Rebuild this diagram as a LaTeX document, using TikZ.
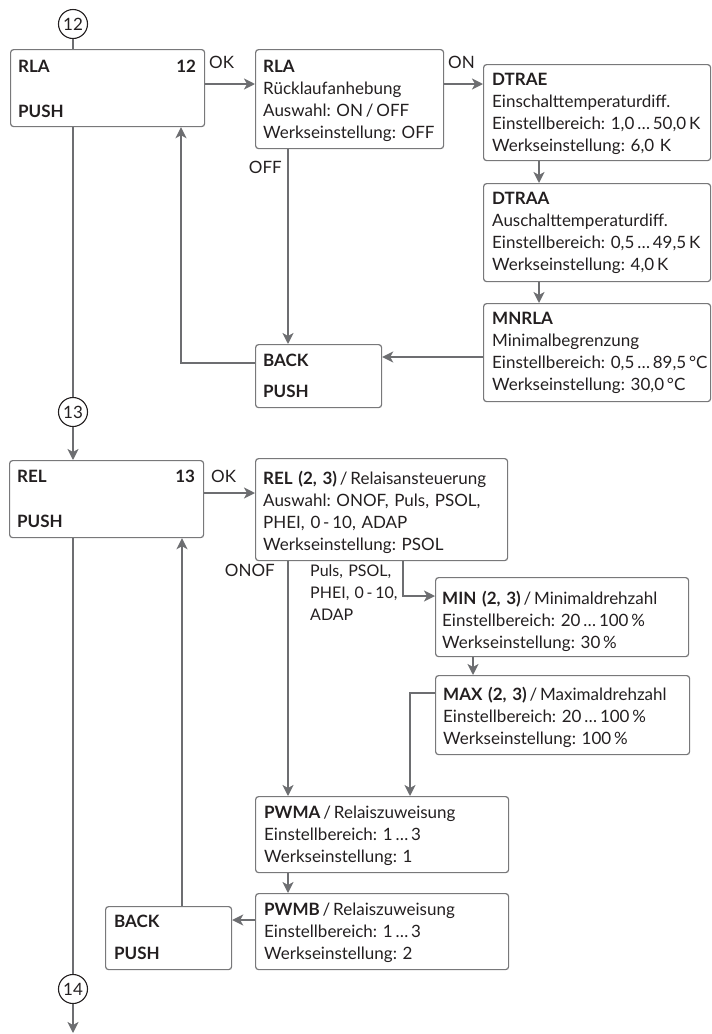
\documentclass[tikz,border=0pt]{standalone}
\usepackage{fontspec}
\setmainfont{Lato}
\usepackage{tikz}
\usetikzlibrary{arrows.meta}
\definecolor{ink}{RGB}{35,31,32}
\definecolor{wire}{RGB}{109,110,113}
\definecolor{frame}{RGB}{120,120,122}
\frenchspacing

\begin{document}
\begin{tikzpicture}[x=1pt,y=-1pt,
  every node/.style={font=\fontsize{17}{22.3}\selectfont, text=ink},
  menubox/.style={draw=frame, line width=1.2pt, rounded corners=3pt, anchor=north west, inner sep=0pt},
  boxtext/.style={anchor=base west, inner sep=0pt, align=left, text width=240pt},
  lbl/.style={inner sep=0pt},
  marker/.style={draw=ink, circle, line width=1.1pt, minimum size=29pt, inner sep=0pt},
  link/.style={draw=wire, line width=2pt},
  arrow/.style={link, -{Stealth[length=11pt,width=11pt,inset=3pt]}}]
\useasboundingbox (0,0) rectangle (712,1034);

\node[marker] (c12) at (73,24) {12};
\node[marker] (c13) at (73,412) {13};
\node[marker] (c14) at (73,989) {14};
\coordinate (next) at (73,1033);

\node[menubox, minimum width=194pt, minimum height=77pt] (rla) at (10,49) {};
\node[menubox, minimum width=188pt, minimum height=99pt] (rlainfo) at (255,49) {};
\node[menubox, minimum width=227pt, minimum height=96pt] (dtrae) at (483,64) {};
\node[menubox, minimum width=227pt, minimum height=98pt] (dtraa) at (483,183) {};
\node[menubox, minimum width=227pt, minimum height=98pt] (mnrla) at (483,303) {};
\node[menubox, minimum width=126pt, minimum height=63pt] (backA) at (255,344) {};
\node[menubox, minimum width=194pt, minimum height=77pt] (rel) at (9,460) {};
\node[menubox, minimum width=252pt, minimum height=102pt] (relinfo) at (255,458) {};
\node[menubox, minimum width=253pt, minimum height=79pt] (minbox) at (435,577) {};
\node[menubox, minimum width=254pt, minimum height=79pt] (maxbox) at (435,675) {};
\node[menubox, minimum width=253pt, minimum height=76pt] (pwma) at (255,796) {};
\node[menubox, minimum width=253pt, minimum height=76pt] (pwmb) at (255,893) {};
\node[menubox, minimum width=126pt, minimum height=63pt] (backB) at (105,906) {};

\node[boxtext] (rlaname) at ([shift={(8,23)}]rla.north west) {\textbf{RLA}};
\node[lbl, anchor=base east] (rlanum) at ([shift={(-9,23)}]rla.north east) {\textbf{12}};
\node[boxtext] (rlapush) at ([shift={(8,68)}]rla.north west) {\textbf{PUSH}};
\node[boxtext] (rlatext) at ([shift={(8,23)}]rlainfo.north west) {\textbf{RLA}\\R\"ucklaufanhebung\\Auswahl: ON\,/\,OFF\\Werkseinstellung: OFF};
\node[boxtext] (dtraetext) at ([shift={(9,21)}]dtrae.north west) {\textbf{DTRAE}\\Einschalttemperaturdiff.\\Einstellbereich: 1,0\,…\,50,0\,K\\Werkseinstellung: 6,0 K};
\node[boxtext] (dtraatext) at ([shift={(9,21)}]dtraa.north west) {\textbf{DTRAA}\\Auschalttemperaturdiff.\\Einstellbereich: 0,5\,…\,49,5\,K\\Werkseinstellung: 4,0\,K};
\node[boxtext] (mnrlatext) at ([shift={(9,21)}]mnrla.north west) {\textbf{MNRLA}\\Minimalbegrenzung\\Einstellbereich: 0,5\,…\,89,5\,°C\\Werkseinstellung: 30,0\,°C};
\node[boxtext] (backAtext) at ([shift={(8,22)}]backA.north west) {\textbf{BACK}};
\node[boxtext] (backApush) at ([shift={(8,53)}]backA.north west) {\textbf{PUSH}};

\node[boxtext] (relname) at ([shift={(8,22)}]rel.north west) {\textbf{REL}};
\node[lbl, anchor=base east] (relnum) at ([shift={(-9,22)}]rel.north east) {\textbf{13}};
\node[boxtext] (relpush) at ([shift={(8,67)}]rel.north west) {\textbf{PUSH}};
\node[boxtext] (reltext) at ([shift={(8,26)}]relinfo.north west) {\textbf{REL (2, 3)}\,/\,Relaisansteuerung\\Auswahl: ONOF, Puls, PSOL,\\PHEI, 0\,-\,10, ADAP\\Werkseinstellung: PSOL};
\node[boxtext] (mintext) at ([shift={(7,27)}]minbox.north west) {\textbf{MIN (2, 3)}\,/\,Minimaldrehzahl\\Einstellbereich: 20\,…\,100\,\%\\Werkseinstellung: 30\,\%};
\node[boxtext] (maxtext) at ([shift={(8,25)}]maxbox.north west) {\textbf{MAX (2, 3)}\,/\,Maximaldrehzahl\\Einstellbereich: 20\,…\,100\,\%\\Werkseinstellung: 100\,\%};
\node[boxtext] (pwmatext) at ([shift={(9,22)}]pwma.north west) {\textbf{PWMA}\,/\,Relaiszuweisung\\Einstellbereich: 1\,…\,3\\Werkseinstellung: 1};
\node[boxtext] (pwmbtext) at ([shift={(9,22)}]pwmb.north west) {\textbf{PWMB}\,/\,Relaiszuweisung\\Einstellbereich: 1\,…\,3\\Werkseinstellung: 2};
\node[boxtext] (backBtext) at ([shift={(9,21)}]backB.north west) {\textbf{BACK}};
\node[boxtext] (backBpush) at ([shift={(9,53)}]backB.north west) {\textbf{PUSH}};

\node[lbl, anchor=base west] (okA) at (209,68) {OK};
\node[lbl, anchor=base west] (onA) at (448,68) {ON};
\node[lbl, anchor=base east] (offA) at (282,173) {OFF};
\node[lbl, anchor=base west] (okB) at (211,482) {OK};
\node[lbl, anchor=base east] (onofB) at (275,576) {ONOF};
\node[boxtext, font=\fontsize{16}{22.3}\selectfont] (pulsB) at (310,576) {Puls, PSOL,\\PHEI, 0\,-\,10,\\ADAP};

\draw[link] (c12.south) -- (c12.south |- rla.north);
\draw[arrow] (rla.east |- 0,84) -- (rlainfo.west |- 0,84);
\draw[arrow] (rlainfo.east |- 0,84) -- (dtrae.west |- 0,84);
\draw[arrow] (rlainfo.south -| 288,0) -- (backA.north -| 288,0);
\draw[arrow] (dtrae.south -| 539,0) -- (dtraa.north -| 539,0);
\draw[arrow] (dtraa.south -| 539,0) -- (mnrla.north -| 539,0);
\draw[arrow] (mnrla.west |- 0,357) -- (backA.east |- 0,357);
\draw[arrow] (backA.west |- 0,363) -| (rla.south -| 181,0);
\draw[link] (c13.north |- rla.south) -- (c13.north);
\draw[arrow] (c13.south) -- (c13.south |- rel.north);

\draw[arrow] (rel.east |- 0,493) -- (relinfo.west |- 0,493);
\draw[arrow] (relinfo.south -| 288,0) -- (pwma.north -| 288,0);
\draw[arrow] (relinfo.south -| 403,0) |- (minbox.west |- 0,596);
\draw[arrow] (minbox.south -| 473,0) -- (maxbox.north -| 473,0);
\draw[arrow] (maxbox.west |- 0,693) -| (pwma.north -| 410,0);
\draw[arrow] (pwma.south -| 288,0) -- (pwmb.north -| 288,0);
\draw[arrow] (pwmb.west |- 0,920) -- (backB.east |- 0,920);
\draw[arrow] (backB.north -| 182,0) -- (rel.south -| 182,0);
\draw[link] (c14.north |- rel.south) -- (c14.north);
\draw[arrow] (c14.south) -- (next);
\end{tikzpicture}
\end{document}
